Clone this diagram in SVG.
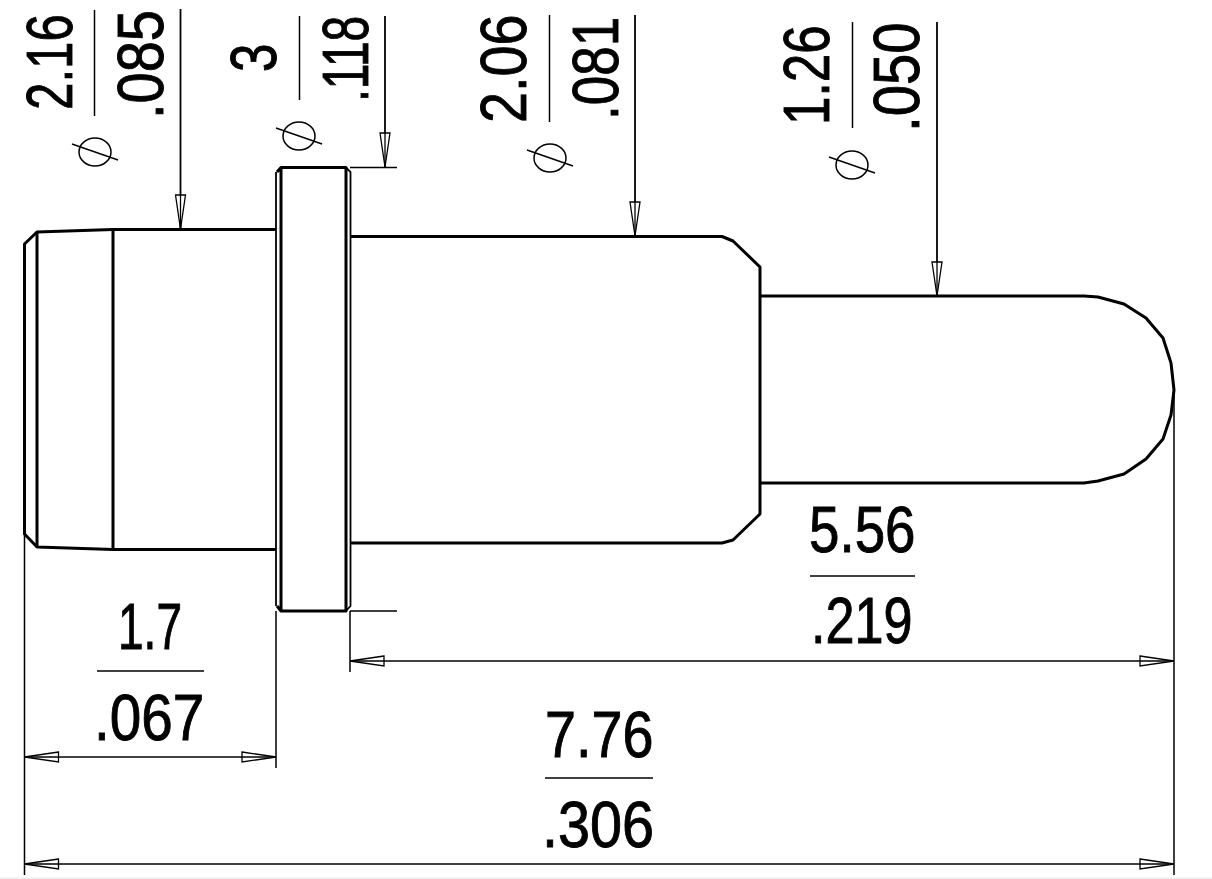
<svg xmlns="http://www.w3.org/2000/svg" width="1212" height="879" viewBox="0 0 1212 879">
<style>
.b{fill:none;stroke:#000;stroke-width:3;stroke-linejoin:round}
.m{fill:none;stroke:#000;stroke-width:1.8}
.t{fill:none;stroke:#000;stroke-width:1.5}
.a{marker-end:url(#ah)}
.s{marker-start:url(#ahs);marker-end:url(#ah)}
text{font-family:"Liberation Sans",Arial,sans-serif;font-size:64px;fill:#000;stroke:#000;stroke-width:.9}
</style>
<defs>
<marker id="ah" markerUnits="userSpaceOnUse" markerWidth="37" markerHeight="12" refX="35" refY="6" orient="auto">
<path d="M1,1L35,6L1,11Z" fill="#fff" stroke="#000" stroke-width="1.3"/><path d="M1,6H35" stroke="#000" stroke-width="1.3"/>
</marker>
<marker id="ahs" markerUnits="userSpaceOnUse" markerWidth="37" markerHeight="12" refX="1" refY="6" orient="auto">
<path d="M35,1L1,6L35,11Z" fill="#fff" stroke="#000" stroke-width="1.3"/><path d="M1,6H35" stroke="#000" stroke-width="1.3"/>
</marker>
</defs>
<rect width="1212" height="879" fill="#fff"/>
<rect y="877.5" width="1212" height="1.5" fill="#eee"/>
<g id="pin-body">
<path class="b" d="M276,229.500H113L37,232L24.500,244V534L37,547L113,549.500H276"/>
<path class="b" d="M37,232V547M113,229.500V549.500"/>
<path class="b" d="M281,167.500H346V611H281ZM281,167.500L277,172M277,606L281,611"/>
<path class="m" d="M276,172V606"/>
<path class="m" d="M346,167.500L350.500,172V606L346,611"/>
<path class="b" d="M350,236.500H722L733,241L760,267V514L733,540L722,543H350"/>
<path class="b" d="M760,296H1084L1098,297L1124,304L1146,318L1163,338L1171,363L1174,390L1171,415L1163,439L1146,459L1124,474L1098,481L1084,483H760"/>
</g>
<g id="connectors">
<path class="t" d="M350,167.500H397M350,611H397"/>
<path class="t" d="M24.500,534V875M1174,390V875M276,611V768M350,611V672"/>
<path class="m a" d="M180.500,9V229"/>
<path class="m a" d="M385,16V167"/>
<path class="m a" d="M635,15V236"/>
<path class="m a" d="M937,22V296"/>
<path class="t s" d="M24.500,757H276"/>
<path class="t s" d="M350,661H1174"/>
<path class="t s" d="M24.500,864H1174"/>
</g>
<g id="dim-2-16">
<text transform="translate(72,110) rotate(-90) scale(.77,1)">2.16</text>
<path class="t" d="M94.500,10V116"/>
<text transform="translate(163,119) rotate(-90) scale(.875,1)">.085</text>
<ellipse class="t" cx="95" cy="152" rx="16" ry="14"/><path class="t" d="M72,144L118,160"/>
</g>
<g id="dim-3">
<text transform="translate(276,72) rotate(-90) scale(.8,1)">3</text>
<path class="t" d="M299.500,16V100"/>
<text transform="translate(368,102) rotate(-90) scale(.72,1)">.118</text>
<ellipse class="t" cx="299" cy="136" rx="16" ry="14"/><path class="t" d="M276,128L322,144"/>
</g>
<g id="dim-2-06">
<text transform="translate(526,123) rotate(-90) scale(.87,1)">2.06</text>
<path class="t" d="M549.500,15V122"/>
<text transform="translate(618,120) rotate(-90) scale(.83,1)">.081</text>
<ellipse class="t" cx="550" cy="158" rx="16" ry="14"/><path class="t" d="M527,150L573,166"/>
</g>
<g id="dim-1-26">
<text transform="translate(829,125) rotate(-90) scale(.8,1)">1.26</text>
<path class="t" d="M852.500,22V128"/>
<text transform="translate(919,132) rotate(-90) scale(.88,1)">.050</text>
<ellipse class="t" cx="852" cy="165" rx="16" ry="14"/><path class="t" d="M829,157L875,173"/>
</g>
<g id="dim-1-7">
<text transform="translate(118,649) scale(.72,1)">1.7</text>
<path class="t" d="M97,671H204"/>
<text transform="translate(94,740) scale(.885,1)">.067</text>
</g>
<g id="dim-5-56">
<text transform="translate(809,552) scale(.855,1)">5.56</text>
<path class="t" d="M810,576H915"/>
<text transform="translate(811,643) scale(.815,1)">.219</text>
</g>
<g id="dim-7-76">
<text transform="translate(545,757) scale(.87,1)">7.76</text>
<path class="t" d="M545,778H653"/>
<text transform="translate(542,847) scale(.9,1)">.306</text>
</g>
</svg>
